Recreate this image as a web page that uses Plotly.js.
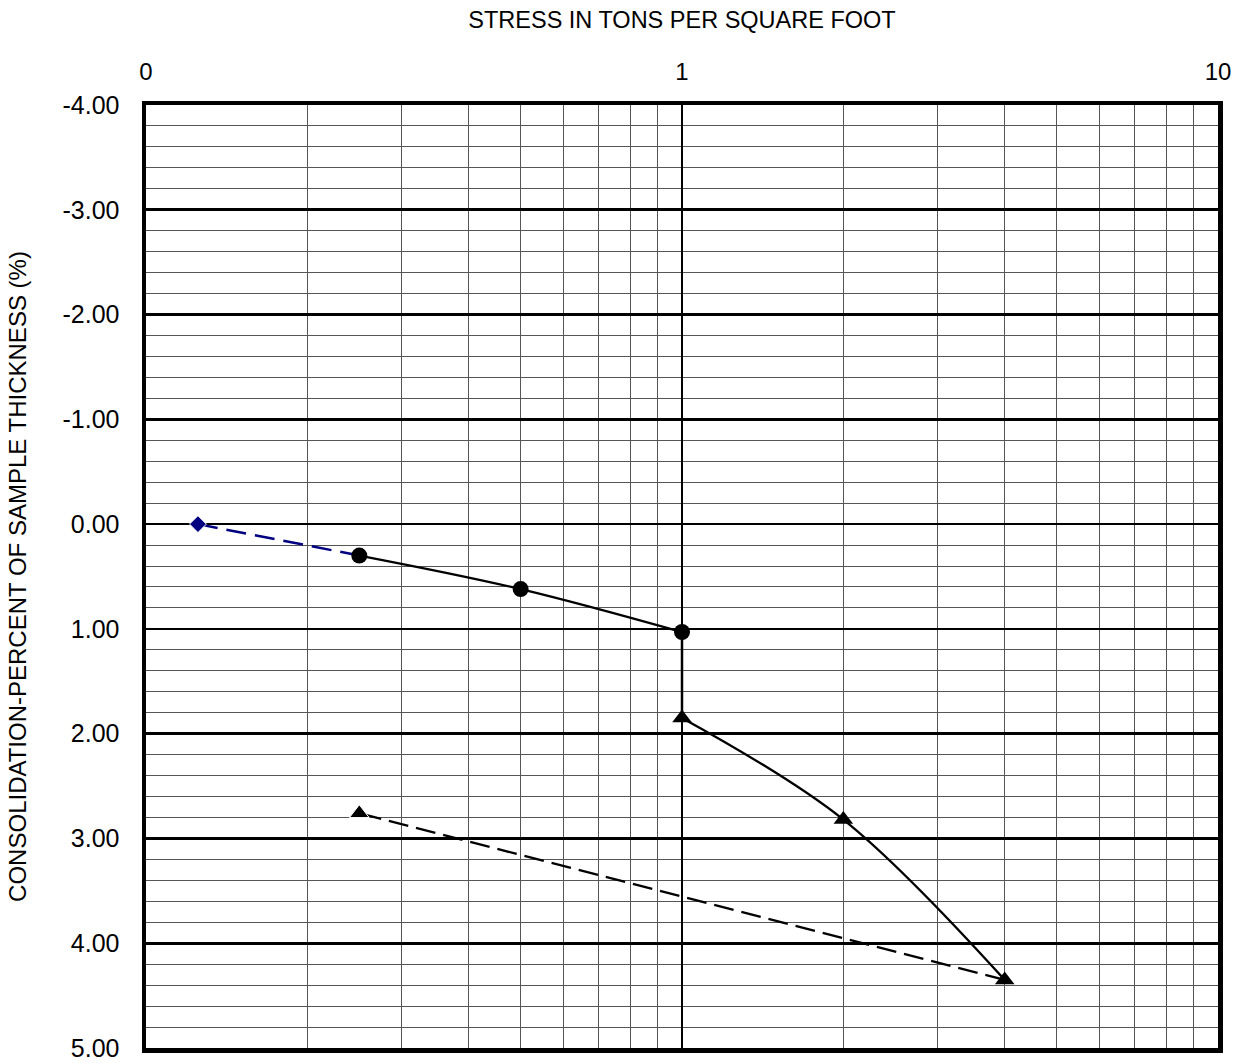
<!DOCTYPE html>
<html>
<head>
<meta charset="utf-8">
<script src="https://cdn.plot.ly/plotly-3.0.1.min.js"></script>
<style>html,body{margin:0;padding:0;background:#fff;}#chart{width:1241px;height:1063px;}</style>
</head>
<body>
<div id="chart"></div>
<script>
// Seating load (dashed blue)
const seatStress = [0.125, 0.25];
const seatStrain = [0.0, 0.3];
// Loading before wetting (circles)
const dryStress = [0.25, 0.5, 1];
const dryStrain = [0.3, 0.62, 1.03];
// Wetting at constant load
const wetStress = [1, 1];
const wetStrain = [1.03, 1.85];
// Loading after wetting (triangles)
const loadStress = [1, 2, 4];
const loadStrain = [1.85, 2.82, 4.35];
// Rebound (dashed)
const reboundStress = [4, 0.25];
const reboundStrain = [4.35, 2.76];

const xTickVals = [0.1, 1, 10];
const xTickText = ['0', '1', '10'];
const yTickVals = [-4, -3, -2, -1, 0, 1, 2, 3, 4, 5];
const yTickText = yTickVals.map(v => v.toFixed(2));

// minor log gridlines 2..9 in each decade
const xMinor = [];
[0.1, 1].forEach(d => { for (let k = 2; k <= 9; k++) xMinor.push(+(d * k).toFixed(3)); });

const font = 'Liberation Sans, Arial, sans-serif';

const traces = [
  {x: seatStress, y: seatStrain, mode: 'lines+markers', type: 'scatter',
   line: {color: '#000080', width: 2.5, dash: '20px,9px'},
   marker: {symbol: 'diamond', size: [13, 0], color: '#000080', opacity: 1}},
  {x: dryStress, y: dryStrain, mode: 'lines+markers', type: 'scatter',
   line: {color: '#000', width: 2.3, shape: 'spline'},
   marker: {symbol: 'circle', size: 16, color: '#000', opacity: 1}},
  {x: wetStress, y: wetStrain, mode: 'lines', type: 'scatter',
   line: {color: '#000', width: 2.5}},
  {x: loadStress, y: loadStrain, mode: 'lines+markers', type: 'scatter',
   line: {color: '#000', width: 2.3, shape: 'spline'},
   marker: {symbol: 'triangle-up', size: 17, color: '#000', opacity: 1}},
  {x: reboundStress, y: reboundStrain, mode: 'lines+markers', type: 'scatter',
   line: {color: '#000', width: 2.3, dash: '20px,8px'},
   marker: {symbol: 'triangle-up', size: [0, 17], color: '#000', opacity: 1}}
];

const layout = {
  width: 1241, height: 1063,
  margin: {l: 146, r: 23, t: 105, b: 15},
  paper_bgcolor: '#fff', plot_bgcolor: '#fff',
  showlegend: false,
  font: {family: font, color: '#000'},
  xaxis: {
    type: 'log', range: [-1, 1], side: 'top',
    tickvals: xTickVals, ticktext: xTickText,
    tickfont: {size: 24, family: font},
    ticks: 'outside', ticklen: 11, tickcolor: 'rgba(0,0,0,0)',
    showgrid: true, gridcolor: '#000', gridwidth: 2.7,
    minor: {tickvals: xMinor, showgrid: true, gridcolor: '#555', gridwidth: 1, ticks: ''},
    showline: true, linecolor: '#000', linewidth: 4.5, mirror: true,
    zeroline: false,
    title: {text: 'STRESS IN TONS PER SQUARE FOOT', font: {size: 23.5, family: font}, standoff: 24}
  },
  yaxis: {
    range: [5, -4], autorange: false,
    tickvals: yTickVals, ticktext: yTickText,
    tickfont: {size: 25, family: font},
    ticks: 'outside', ticklen: 17, tickcolor: 'rgba(0,0,0,0)',
    showgrid: true, gridcolor: '#000', gridwidth: 2.7,
    minor: {dtick: 0.2, showgrid: true, gridcolor: '#555', gridwidth: 1, ticks: ''},
    showline: true, linecolor: '#000', linewidth: 4.5, mirror: true,
    zeroline: false,
    title: {text: 'CONSOLIDATION-PERCENT OF SAMPLE THICKNESS (%)', font: {size: 24, family: font}, standoff: 30}
  }
};

Plotly.newPlot('chart', traces, layout, {staticPlot: true, displayModeBar: false});
</script>
</body>
</html>
